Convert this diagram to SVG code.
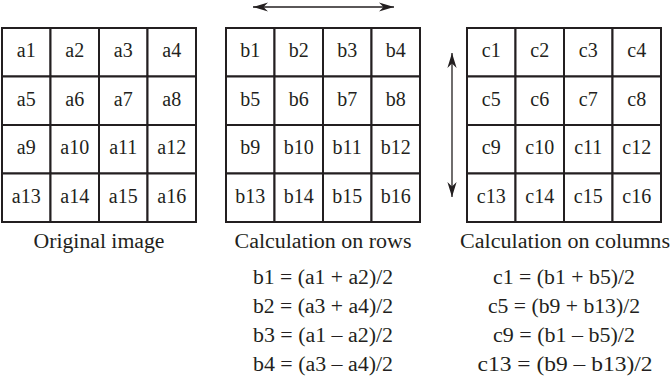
<svg xmlns="http://www.w3.org/2000/svg" width="671" height="386" viewBox="0 0 671 386">
<style>
.c rect{fill:#fff;stroke:#231f20;stroke-width:2}
text{font-family:"Liberation Serif","Times New Roman",serif;font-size:20px;fill:#231f20;text-anchor:middle}
.ar{stroke:#231f20;stroke-width:1.3;fill:none}
</style>
<defs>
<marker id="ah" markerUnits="userSpaceOnUse" markerWidth="20" markerHeight="12" refX="0" refY="0" viewBox="-16 -6 17 12" orient="auto-start-reverse" overflow="visible">
<path d="M0,0 L-15,-4.6 L-10.5,0 L-15,4.6 Z" fill="#231f20"/>
</marker>
</defs>
<g id="gridA" class="c">
<g id="a1"><rect x="2" y="28" width="48.5" height="48.5"/><text x="26.25" y="57">a1</text></g>
<g id="a2"><rect x="50.5" y="28" width="48.5" height="48.5"/><text x="74.75" y="57">a2</text></g>
<g id="a3"><rect x="99" y="28" width="48.5" height="48.5"/><text x="123.25" y="57">a3</text></g>
<g id="a4"><rect x="147.5" y="28" width="48.5" height="48.5"/><text x="171.75" y="57">a4</text></g>
<g id="a5"><rect x="2" y="76.5" width="48.5" height="48.5"/><text x="26.25" y="105.5">a5</text></g>
<g id="a6"><rect x="50.5" y="76.5" width="48.5" height="48.5"/><text x="74.75" y="105.5">a6</text></g>
<g id="a7"><rect x="99" y="76.5" width="48.5" height="48.5"/><text x="123.25" y="105.5">a7</text></g>
<g id="a8"><rect x="147.5" y="76.5" width="48.5" height="48.5"/><text x="171.75" y="105.5">a8</text></g>
<g id="a9"><rect x="2" y="125" width="48.5" height="48.5"/><text x="26.25" y="154">a9</text></g>
<g id="a10"><rect x="50.5" y="125" width="48.5" height="48.5"/><text x="74.75" y="154">a10</text></g>
<g id="a11"><rect x="99" y="125" width="48.5" height="48.5"/><text x="123.25" y="154">a11</text></g>
<g id="a12"><rect x="147.5" y="125" width="48.5" height="48.5"/><text x="171.75" y="154">a12</text></g>
<g id="a13"><rect x="2" y="173.5" width="48.5" height="48.5"/><text x="26.25" y="202.5">a13</text></g>
<g id="a14"><rect x="50.5" y="173.5" width="48.5" height="48.5"/><text x="74.75" y="202.5">a14</text></g>
<g id="a15"><rect x="99" y="173.5" width="48.5" height="48.5"/><text x="123.25" y="202.5">a15</text></g>
<g id="a16"><rect x="147.5" y="173.5" width="48.5" height="48.5"/><text x="171.75" y="202.5">a16</text></g>
</g>
<g id="gridB" class="c">
<g id="b1"><rect x="226" y="28" width="48.5" height="48.5"/><text x="250.25" y="57">b1</text></g>
<g id="b2"><rect x="274.5" y="28" width="48.5" height="48.5"/><text x="298.75" y="57">b2</text></g>
<g id="b3"><rect x="323" y="28" width="48.5" height="48.5"/><text x="347.25" y="57">b3</text></g>
<g id="b4"><rect x="371.5" y="28" width="48.5" height="48.5"/><text x="395.75" y="57">b4</text></g>
<g id="b5"><rect x="226" y="76.5" width="48.5" height="48.5"/><text x="250.25" y="105.5">b5</text></g>
<g id="b6"><rect x="274.5" y="76.5" width="48.5" height="48.5"/><text x="298.75" y="105.5">b6</text></g>
<g id="b7"><rect x="323" y="76.5" width="48.5" height="48.5"/><text x="347.25" y="105.5">b7</text></g>
<g id="b8"><rect x="371.5" y="76.5" width="48.5" height="48.5"/><text x="395.75" y="105.5">b8</text></g>
<g id="b9"><rect x="226" y="125" width="48.5" height="48.5"/><text x="250.25" y="154">b9</text></g>
<g id="b10"><rect x="274.5" y="125" width="48.5" height="48.5"/><text x="298.75" y="154">b10</text></g>
<g id="b11"><rect x="323" y="125" width="48.5" height="48.5"/><text x="347.25" y="154">b11</text></g>
<g id="b12"><rect x="371.5" y="125" width="48.5" height="48.5"/><text x="395.75" y="154">b12</text></g>
<g id="b13"><rect x="226" y="173.5" width="48.5" height="48.5"/><text x="250.25" y="202.5">b13</text></g>
<g id="b14"><rect x="274.5" y="173.5" width="48.5" height="48.5"/><text x="298.75" y="202.5">b14</text></g>
<g id="b15"><rect x="323" y="173.5" width="48.5" height="48.5"/><text x="347.25" y="202.5">b15</text></g>
<g id="b16"><rect x="371.5" y="173.5" width="48.5" height="48.5"/><text x="395.75" y="202.5">b16</text></g>
</g>
<g id="gridC" class="c">
<g id="c1"><rect x="467" y="28" width="48.5" height="48.5"/><text x="491.25" y="57">c1</text></g>
<g id="c2"><rect x="515.5" y="28" width="48.5" height="48.5"/><text x="539.75" y="57">c2</text></g>
<g id="c3"><rect x="564" y="28" width="48.5" height="48.5"/><text x="588.25" y="57">c3</text></g>
<g id="c4"><rect x="612.5" y="28" width="48.5" height="48.5"/><text x="636.75" y="57">c4</text></g>
<g id="c5"><rect x="467" y="76.5" width="48.5" height="48.5"/><text x="491.25" y="105.5">c5</text></g>
<g id="c6"><rect x="515.5" y="76.5" width="48.5" height="48.5"/><text x="539.75" y="105.5">c6</text></g>
<g id="c7"><rect x="564" y="76.5" width="48.5" height="48.5"/><text x="588.25" y="105.5">c7</text></g>
<g id="c8"><rect x="612.5" y="76.5" width="48.5" height="48.5"/><text x="636.75" y="105.5">c8</text></g>
<g id="c9"><rect x="467" y="125" width="48.5" height="48.5"/><text x="491.25" y="154">c9</text></g>
<g id="c10"><rect x="515.5" y="125" width="48.5" height="48.5"/><text x="539.75" y="154">c10</text></g>
<g id="c11"><rect x="564" y="125" width="48.5" height="48.5"/><text x="588.25" y="154">c11</text></g>
<g id="c12"><rect x="612.5" y="125" width="48.5" height="48.5"/><text x="636.75" y="154">c12</text></g>
<g id="c13"><rect x="467" y="173.5" width="48.5" height="48.5"/><text x="491.25" y="202.5">c13</text></g>
<g id="c14"><rect x="515.5" y="173.5" width="48.5" height="48.5"/><text x="539.75" y="202.5">c14</text></g>
<g id="c15"><rect x="564" y="173.5" width="48.5" height="48.5"/><text x="588.25" y="202.5">c15</text></g>
<g id="c16"><rect x="612.5" y="173.5" width="48.5" height="48.5"/><text x="636.75" y="202.5">c16</text></g>
</g>
<g id="connectors">
<line class="ar" x1="253" y1="7" x2="394" y2="7" marker-start="url(#ah)" marker-end="url(#ah)"/>
<line class="ar" x1="452" y1="53" x2="452" y2="197" marker-start="url(#ah)" marker-end="url(#ah)"/>
</g>
<g id="captions">
<text x="99" y="248" textLength="131" lengthAdjust="spacingAndGlyphs">Original image</text>
<text x="323" y="248" textLength="177" lengthAdjust="spacingAndGlyphs">Calculation on rows</text>
<text x="565" y="248" textLength="210" lengthAdjust="spacingAndGlyphs">Calculation on columns</text>
</g>
<g id="formulas">
<text x="323" y="284" textLength="140" lengthAdjust="spacingAndGlyphs">b1 = (a1 + a2)/2</text>
<text x="323" y="313" textLength="140" lengthAdjust="spacingAndGlyphs">b2 = (a3 + a4)/2</text>
<text x="323" y="342" textLength="140" lengthAdjust="spacingAndGlyphs">b3 = (a1 – a2)/2</text>
<text x="323" y="371" textLength="140" lengthAdjust="spacingAndGlyphs">b4 = (a3 – a4)/2</text>
<text x="564" y="284" textLength="142" lengthAdjust="spacingAndGlyphs">c1 = (b1 + b5)/2</text>
<text x="564" y="313" textLength="152" lengthAdjust="spacingAndGlyphs">c5 = (b9 + b13)/2</text>
<text x="564" y="342" textLength="142" lengthAdjust="spacingAndGlyphs">c9 = (b1 – b5)/2</text>
<text x="565" y="371" textLength="175" lengthAdjust="spacingAndGlyphs">c13 = (b9 – b13)/2</text>
</g>
</svg>
